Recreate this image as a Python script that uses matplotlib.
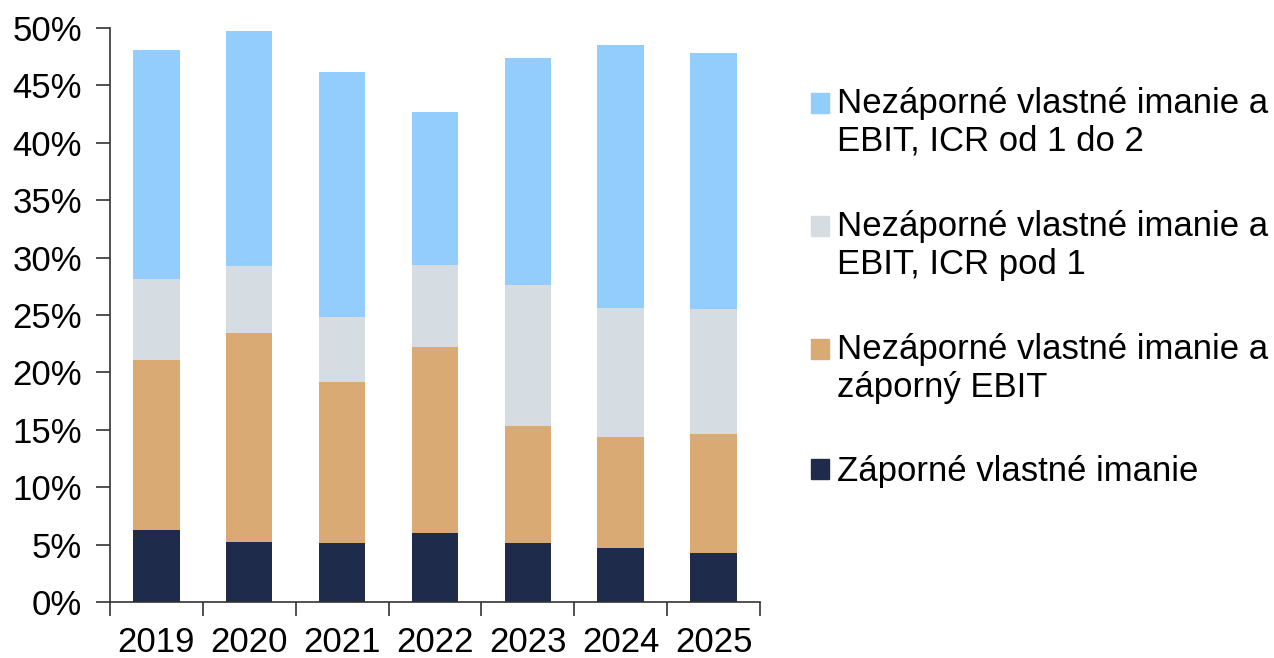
import numpy as np
import matplotlib.pyplot as plt
from matplotlib.ticker import PercentFormatter, FixedLocator
from matplotlib.patches import Patch, Rectangle
from matplotlib.legend_handler import HandlerPatch

plt.rcParams['font.family'] = ['Liberation Sans', 'DejaVu Sans']

years = ['2019', '2020', '2021', '2022', '2023', '2024', '2025']

# shares in %, stacked bottom to top
negative_equity = [6.3, 5.2, 5.1, 6.0, 5.1, 4.7, 4.3]
negative_ebit = [14.8, 18.2, 14.1, 16.2, 10.2, 9.7, 10.3]
icr_below_1 = [7.0, 5.9, 5.6, 7.2, 12.3, 11.2, 10.9]
icr_1_to_2 = [20.0, 20.4, 21.4, 13.3, 19.8, 22.9, 22.3]

labels = ['Záporné vlastné imanie',
          'Nezáporné vlastné imanie a\nzáporný EBIT',
          'Nezáporné vlastné imanie a\nEBIT, ICR pod 1',
          'Nezáporné vlastné imanie a\nEBIT, ICR od 1 do 2']
colors = ['#1F2B4B', '#D9AA74', '#D5DCE2', '#92CDFD']
series = [negative_equity, negative_ebit, icr_below_1, icr_1_to_2]

fig = plt.figure(figsize=(12.74, 6.58), dpi=100)
ax = fig.add_axes([0.0863, 0.0851, 0.5102, 0.8723])

x = np.arange(len(years))
bottom = np.zeros(len(years))
for vals, col, lab in zip(series, colors, labels):
    ax.bar(x, vals, 0.5, bottom=bottom, color=col, label=lab)
    bottom += np.array(vals)

ax.set_xlim(-0.5, len(years) - 0.5)
ax.set_ylim(0, 50)
ax.set_yticks(np.arange(0, 51, 5))
ax.yaxis.set_major_formatter(PercentFormatter(decimals=0))
ax.set_xticks(x)
ax.set_xticklabels(years)
ax.tick_params(axis='x', length=0, labelsize=25, pad=17)
ax.xaxis.set_minor_locator(FixedLocator(np.arange(-0.5, len(years), 1)))
ax.tick_params(axis='x', which='minor', length=10, width=1.2, color='#333333')
ax.tick_params(axis='y', length=10, width=1.2, labelsize=25, color='#333333', pad=10)
for s in ['top', 'right']:
    ax.spines[s].set_visible(False)
for s in ['left', 'bottom']:
    ax.spines[s].set_linewidth(1.2)
    ax.spines[s].set_color('#333333')


# legend square next to the first line of a two-line label
def upper_square(legend, orig_handle, xdescent, ydescent, width, height, fontsize):
    return Rectangle((-xdescent, -ydescent + 14.4), width, height)


handles = [Patch(color=c) for c in colors[::-1]]
hmap = {h: HandlerPatch(patch_func=upper_square) for h, lab in zip(handles, labels[::-1]) if '\n' in lab}
fig.legend(handles, labels[::-1], handler_map=hmap, loc='center left', bbox_to_anchor=(0.623, 0.563),
           frameon=False, fontsize=25, handlelength=0.52, handleheight=0.52,
           handletextpad=0.22, labelspacing=1.49, borderpad=0)

fig.savefig('out.png', dpi=100)
